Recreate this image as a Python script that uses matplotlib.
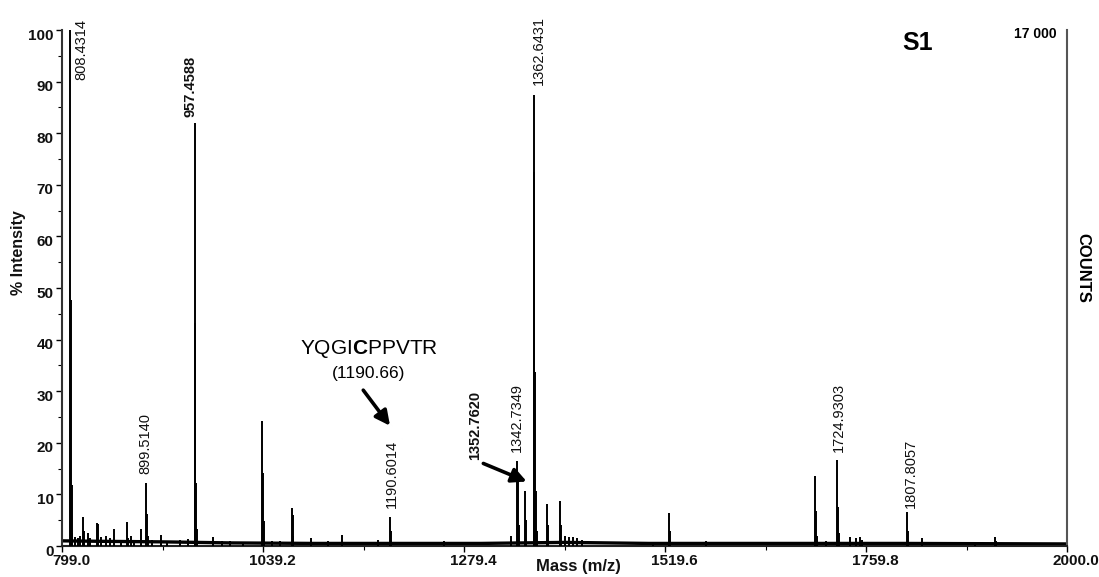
import matplotlib
matplotlib.use('Agg')
import matplotlib.pyplot as plt
import matplotlib.transforms as mtransforms
from matplotlib.ticker import FixedLocator, MultipleLocator

plt.rcParams['font.family'] = ['Liberation Sans', 'DejaVu Sans']
plt.rcParams['mathtext.fontset'] = 'custom'
plt.rcParams['mathtext.rm'] = 'Liberation Sans'
plt.rcParams['mathtext.bf'] = 'Liberation Sans:bold'

# peak list (m/z, % intensity)
peak_mz = [808.43, 809.43, 810.43, 811.4, 815, 818, 821, 824.3, 825.3, 830, 833,
           840.5, 842, 846, 851.6, 856, 861.2, 869, 877.0, 878, 881.2, 885, 893.0,
           899.51, 900.51, 901.5, 906, 917.7, 925, 940, 950,
           957.46, 958.46, 959.46, 960.46, 979.5, 990, 1000, 1015,
           1038.5, 1039.5, 1040.5, 1050, 1060, 1073.6, 1074.6, 1075.6,
           1096, 1117, 1134, 1177, 1190.6, 1191.6, 1255, 1336,
           1342.73, 1343.73, 1344.7, 1352.76, 1353.76,
           1362.64, 1363.64, 1364.64, 1365.64, 1366.6,
           1378.6, 1379.6, 1394.5, 1395.5, 1400, 1405, 1410, 1415, 1420,
           1505, 1524.4, 1525.4, 1568,
           1698.9, 1699.9, 1700.9, 1712, 1725.5, 1726.5, 1727.5,
           1741, 1748, 1752.6, 1755, 1808.4, 1809.4, 1827, 1890, 1914, 1915]
peak_int = [100, 47.7, 11.8, 2.5, 1.8, 1.5, 2.0, 5.7, 3.0, 2.5, 1.5,
            4.5, 4.2, 1.8, 2.0, 1.5, 3.3, 1.2, 4.7, 1.5, 2.0, 1.2, 3.2,
            12.3, 6.2, 2.0, 1.2, 2.2, 1.0, 1.2, 1.3,
            81.9, 43.2, 12.2, 3.3, 1.7, 1.0, 0.9, 0.8,
            24.2, 14.2, 4.9, 1.0, 0.9, 7.3, 6.0, 2.0,
            1.5, 1.0, 2.1, 1.2, 5.7, 3.0, 1.0, 2.0,
            16.4, 13.0, 4.0, 10.6, 5.0,
            87.4, 72.5, 33.8, 10.6, 3.0,
            8.2, 4.0, 8.7, 4.0, 2.0, 1.8, 1.8, 1.5, 1.2,
            0.8, 6.3, 3.0, 1.0,
            13.6, 6.7, 2.0, 1.0, 16.7, 7.6, 2.5,
            1.7, 1.5, 1.7, 1.2, 6.5, 3.0, 1.5, 0.8, 1.8, 1.0]

# noisy baseline level
base_mz = [799.0, 850, 920, 1000, 1100, 1300, 1400, 1500, 1700, 1800, 2000.0]
base_int = [1.0, 0.9, 0.8, 0.6, 0.5, 0.5, 0.7, 0.5, 0.5, 0.5, 0.4]

# peak labels: text, x, y (bottom of rotated text), bold
label_text = ['808.4314', '957.4588', '899.5140', '1190.6014', '1352.7620',
              '1342.7349', '1362.6431', '1724.9303', '1807.8057']
label_x = [822.3, 952.6, 898.8, 1193.0, 1292.5, 1342.4, 1368.4, 1727.3, 1813.0]
label_y = [90.3, 83.1, 14.0, 7.4, 16.7, 18.3, 89.3, 18.3, 7.3]
label_bold = [False, True, False, False, True, False, False, False, False]

x_ticks = [799.0, 1039.2, 1279.4, 1519.6, 1759.8, 2000.0]

fig = plt.figure(figsize=(10.99, 5.77), dpi=100)
W, H = 1099, 577
ax = fig.add_axes([62 / W, 1 - 546 / H, (1067 - 62) / W, (546 - 30) / H])

ax.plot(base_mz, base_int, color='k', lw=2.4, zorder=2)
ax.vlines(peak_mz, 0, peak_int, color='k', lw=1.4, zorder=3)

ax.set_xlim(799.0, 2000.0)
ax.set_ylim(0, 100)

for t, x, y, b in zip(label_text, label_x, label_y, label_bold):
    ax.text(x, y, t, rotation=90, ha='center', va='bottom', fontsize=10.5,
            fontweight='bold' if b else 'normal', color='#111111')

arrow = dict(arrowstyle='-|>', lw=2.6, color='k', mutation_scale=22,
             shrinkA=0, shrinkB=0)
ax.annotate('', xy=(1354.3, 12.5), xytext=(1302.5, 16.0), arrowprops=arrow)
ax.annotate('', xy=(1191.0, 23.3), xytext=(1159.0, 30.2), arrowprops=arrow)

ax.text(1165.9, 38.2, r'YQGI$\mathbf{C}$PPVTR', ha='center', va='center', fontsize=15)
ax.text(1165.9, 33.5, '(1190.66)', ha='center', va='center', fontsize=12.5)

ax.spines['top'].set_visible(False)
for s in ['left', 'right', 'bottom']:
    ax.spines[s].set_linewidth(1.5)
ax.spines['left'].set_color('#333333')
ax.spines['right'].set_color('#555555')
ax.spines['bottom'].set_color('#222222')

ax.xaxis.set_major_locator(FixedLocator(x_ticks))
ax.xaxis.set_minor_locator(FixedLocator([919.1, 1159.3, 1399.5, 1639.7, 1879.9]))
ax.set_xticklabels(['%.1f' % v for v in x_ticks])
ax.yaxis.set_major_locator(MultipleLocator(10))
ax.yaxis.set_minor_locator(MultipleLocator(5))
ax.tick_params(axis='both', which='major', direction='out', length=4, width=1,
               labelsize=11, pad=2, labelcolor='#111111')
ax.tick_params(axis='both', which='minor', direction='out', length=3, width=0.8)
ax.tick_params(axis='y', right=False)
for lab in ax.get_xticklabels() + ax.get_yticklabels():
    lab.set_fontweight('bold')

dx = mtransforms.ScaledTranslation(9 / 100, 0, fig.dpi_scale_trans)
dy = mtransforms.ScaledTranslation(0, -4 / 100, fig.dpi_scale_trans)
for lab in ax.get_xticklabels():
    lab.set_transform(lab.get_transform() + dx)
for lab in ax.get_yticklabels():
    lab.set_transform(lab.get_transform() + dy)

ax.set_xlabel('Mass (m/z)', fontsize=12, fontweight='bold', color='#111111')
ax.xaxis.set_label_coords((578 - 62) / (1067 - 62), -(566 - 546) / (546 - 30), transform=ax.transAxes)
ax.xaxis.label.set_va('center')
ax.set_ylabel('% Intensity', fontsize=11.5, fontweight='bold', color='#111111')
ax.yaxis.set_label_coords(-(62 - 19) / (1067 - 62), (546 - 253) / (546 - 30))
ax.yaxis.label.set_va('center')

fig.text(918 / W, 1 - 42.5 / H, 'S1', ha='center', va='center', fontsize=18, fontweight='bold')
fig.text(1057 / W, 1 - 34.5 / H, '17 000', ha='right', va='center', fontsize=10, fontweight='bold')
fig.text(1083 / W, 1 - 268 / H, 'COUNTS', ha='center', va='center', rotation=-90,
         fontsize=12, fontweight='bold')

fig.savefig('out.png', dpi=100)
